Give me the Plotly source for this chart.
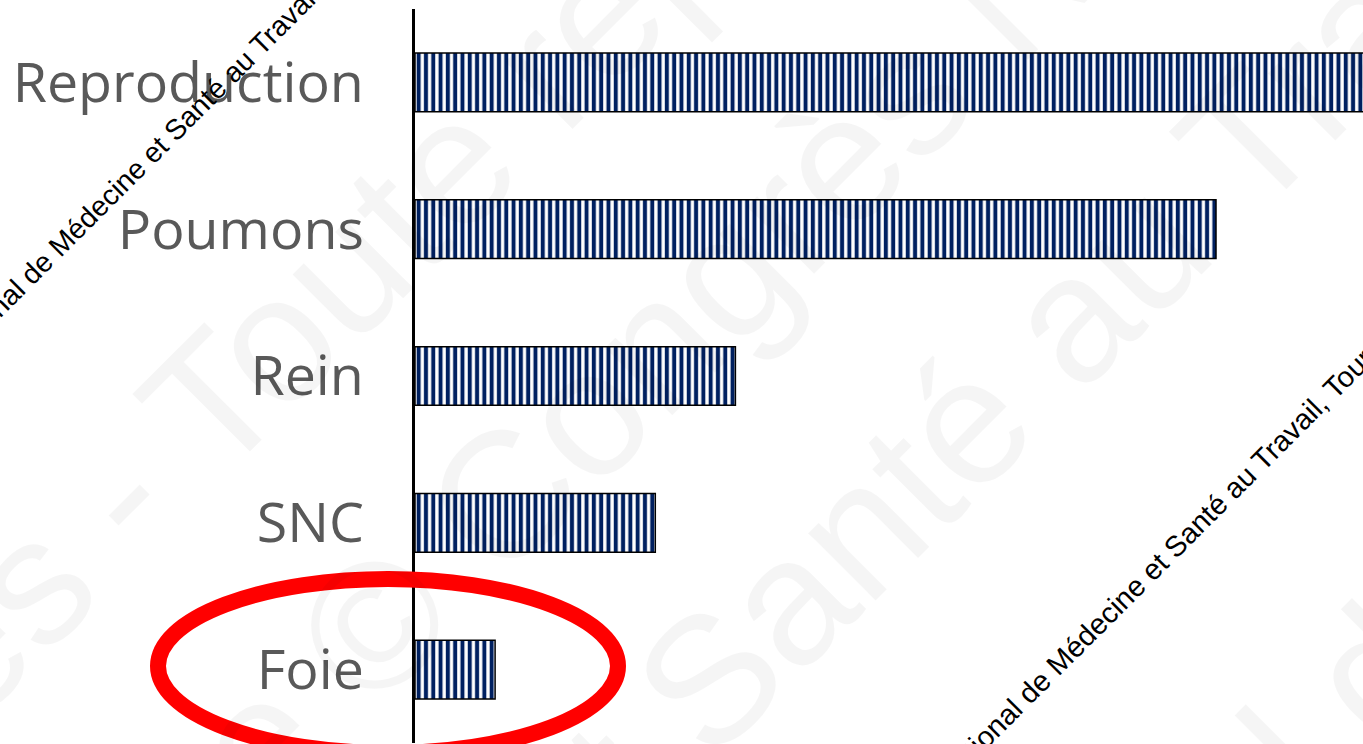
import math
import plotly.graph_objects as go

# ---- data ----
categories = ["Reproduction", "Poumons", "Rein", "SNC", "Foie"]
values = [12, 10, 4, 3, 1]

# ---- geometry helpers (layout only) ----
W, H = 1420, 744          # page is viewed through a 1363 px window
ML, MR, MT, MB = 415, 0, 9, 1
PW, PH = W - ML - MR, H - MT - MB
UNIT_PX = 80.1


def px(x):
    return (x - ML) / PW


def py(y):
    return (H - MB - y) / PH


ARIAL = {" ": 278, "-": 333, ",": 278, "©": 737, "C": 722, "M": 833, "N": 722,
         "S": 667, "T": 611, "a": 556, "c": 500, "d": 556, "e": 556, "é": 556,
         "è": 556, "g": 556, "i": 222, "l": 222, "n": 556, "o": 556, "p": 556,
         "r": 333, "s": 500, "t": 278, "u": 556, "v": 500}


def tw(s):
    return sum(ARIAL.get(ch, 556) for ch in s) / 1000.0


def place(text, idx, ref, size):
    before = tw(text[:idx]) + ARIAL.get(text[idx], 556) / 2000.0
    d = (tw(text) / 2 - before) * size
    c = math.sqrt(0.5)
    return ref[0] + d * c, ref[1] - d * c


fig = go.Figure(go.Bar(
    x=values, y=categories, orientation="h", width=0.4,
    marker=dict(color="#002060", line=dict(color="black", width=1.5),
                pattern=dict(shape="|", fgcolor="#002060", bgcolor="white",
                             fgopacity=1, fillmode="replace",
                             size=7.3, solidity=0.55)),
    hoverinfo="skip",
))

annotations = []
# big faint watermark lines
WM = dict(family="Liberation Sans, Arial", size=180, color="rgba(0,0,0,0.04)")
wm_lines = [
    ("Congrès - Toute reproduction interdite", " - ", (110, 503)),
    ("interdite © Congrès National de Médecine", "Congrès", (503, 497)),
    ("Médecine et Santé au Travail - Toute", "Santé", (697, 690)),
    ("Congrès National de Médecine", "l de", (1288, 758)),
]
for text, key, ref in wm_lines:
    idx = text.index(key) + (1 if key.startswith(" ") else 0)
    cx, cy = place(text, idx, ref, WM["size"])
    annotations.append(dict(text=text, x=px(cx), y=py(cy), xref="paper", yref="paper",
                            xanchor="center", yanchor="middle", textangle=-45,
                            showarrow=False, font=WM))

# small black diagonal text
small = "Congrès National de Médecine et Santé au Travail, Tours"
for ref, size in [((60, 244), 28.5), ((1058, 663), 29)]:
    cx, cy = place(small, small.index("M"), ref, size)
    annotations.append(dict(text=small, x=px(cx), y=py(cy), xref="paper", yref="paper",
                            xanchor="center", yanchor="middle", textangle=-45,
                            showarrow=False,
                            font=dict(family="Liberation Sans, Arial", size=size, color="black")))

fig.update_layout(
    width=W, height=H, autosize=False,
    margin=dict(l=ML, r=MR, t=MT, b=MB, pad=0),
    paper_bgcolor="white", plot_bgcolor="white",
    showlegend=False,
    xaxis=dict(visible=False, range=[0, PW / UNIT_PX], fixedrange=True),
    yaxis=dict(autorange="reversed", showline=True, linecolor="black", linewidth=3,
               ticks="", showgrid=False, zeroline=False, ticklabelstandoff=37,
               tickfont=dict(family="Open Sans", size=55.5, color="#595959"),
               fixedrange=True),
    annotations=annotations,
    shapes=[dict(type="circle", xref="paper", yref="paper",
                 x0=px(158), x1=px(618), y0=py(753), y1=py(579),
                 line=dict(color="#FF0000", width=16), layer="above")],
)

fig.write_html("out.html", config={"displayModeBar": False},
               post_script="document.body.style.margin='0';document.body.style.overflow='hidden';")
